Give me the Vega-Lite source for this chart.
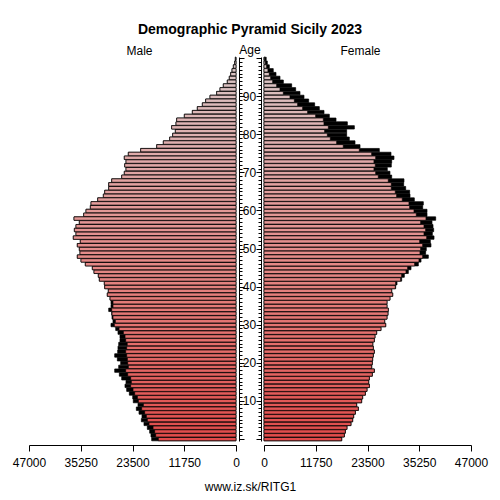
{
  "$schema": "https://vega.github.io/schema/vega-lite/v6.json",
  "background": "white",
  "bounds": "flush",
  "spacing": 28,
  "padding": {"left": 12, "top": 23, "right": 5, "bottom": 5},
  "title": {
    "text": "Demographic Pyramid Sicily 2023",
    "subtitle": "Age",
    "fontSize": 14,
    "fontWeight": "bold",
    "subtitleFontSize": 12,
    "subtitlePadding": 8,
    "anchor": "middle",
    "offset": -11.5
  },
  "datasets": {
    "sicily": [
      {"age": 0, "male": 19140, "female": 17640},
      {"age": 1, "male": 19300, "female": 18240},
      {"age": 2, "male": 19600, "female": 18470},
      {"age": 3, "male": 20130, "female": 18840},
      {"age": 4, "male": 20890, "female": 19750},
      {"age": 5, "male": 21490, "female": 20130},
      {"age": 6, "male": 21340, "female": 20360},
      {"age": 7, "male": 22020, "female": 20740},
      {"age": 8, "male": 22630, "female": 21420},
      {"age": 9, "male": 22250, "female": 21040},
      {"age": 10, "male": 23320, "female": 22170},
      {"age": 11, "male": 23450, "female": 22400},
      {"age": 12, "male": 24220, "female": 23010},
      {"age": 13, "male": 24820, "female": 23390},
      {"age": 14, "male": 25200, "female": 23920},
      {"age": 15, "male": 24970, "female": 23770},
      {"age": 16, "male": 25950, "female": 23920},
      {"age": 17, "male": 26490, "female": 24590},
      {"age": 18, "male": 27540, "female": 25050},
      {"age": 19, "male": 26630, "female": 24450},
      {"age": 20, "male": 26180, "female": 24590},
      {"age": 21, "male": 26940, "female": 24670},
      {"age": 22, "male": 27540, "female": 24820},
      {"age": 23, "male": 26860, "female": 25050},
      {"age": 24, "male": 26790, "female": 24820},
      {"age": 25, "male": 26630, "female": 24700},
      {"age": 26, "male": 26340, "female": 25050},
      {"age": 27, "male": 26340, "female": 25200},
      {"age": 28, "male": 26790, "female": 25580},
      {"age": 29, "male": 27310, "female": 26560},
      {"age": 30, "male": 28380, "female": 27630},
      {"age": 31, "male": 27930, "female": 27400},
      {"age": 32, "male": 28150, "female": 27930},
      {"age": 33, "male": 28220, "female": 28150},
      {"age": 34, "male": 28900, "female": 28220},
      {"age": 35, "male": 28380, "female": 27930},
      {"age": 36, "male": 28380, "female": 27930},
      {"age": 37, "male": 28600, "female": 28600},
      {"age": 38, "male": 29220, "female": 29220},
      {"age": 39, "male": 28990, "female": 28990},
      {"age": 40, "male": 29810, "female": 29900},
      {"age": 41, "male": 29900, "female": 30200},
      {"age": 42, "male": 31030, "female": 31260},
      {"age": 43, "male": 31260, "female": 31860},
      {"age": 44, "male": 32240, "female": 32770},
      {"age": 45, "male": 32620, "female": 33380},
      {"age": 46, "male": 34210, "female": 35040},
      {"age": 47, "male": 35190, "female": 35650},
      {"age": 48, "male": 36030, "female": 37310},
      {"age": 49, "male": 35420, "female": 36700},
      {"age": 50, "male": 35570, "female": 36850},
      {"age": 51, "male": 36030, "female": 37910},
      {"age": 52, "male": 35350, "female": 37760},
      {"age": 53, "male": 36940, "female": 38600},
      {"age": 54, "male": 36330, "female": 38220},
      {"age": 55, "male": 36700, "female": 38520},
      {"age": 56, "male": 36330, "female": 38370},
      {"age": 57, "male": 35570, "female": 38140},
      {"age": 58, "male": 36780, "female": 38980},
      {"age": 59, "male": 34580, "female": 37010},
      {"age": 60, "male": 34060, "female": 37010},
      {"age": 61, "male": 33070, "female": 36030},
      {"age": 62, "male": 32920, "female": 36170},
      {"age": 63, "male": 31400, "female": 34130},
      {"age": 64, "male": 30120, "female": 33150},
      {"age": 65, "male": 29810, "female": 33070},
      {"age": 66, "male": 28900, "female": 32170},
      {"age": 67, "male": 28900, "female": 31710},
      {"age": 68, "male": 28220, "female": 31780},
      {"age": 69, "male": 25950, "female": 28990},
      {"age": 70, "male": 25360, "female": 28600},
      {"age": 71, "male": 24970, "female": 27990},
      {"age": 72, "male": 25270, "female": 28900},
      {"age": 73, "male": 24970, "female": 28990},
      {"age": 74, "male": 25360, "female": 29510},
      {"age": 75, "male": 24450, "female": 28830},
      {"age": 76, "male": 21640, "female": 26180},
      {"age": 77, "male": 18000, "female": 21800},
      {"age": 78, "male": 16500, "female": 20660},
      {"age": 79, "male": 15060, "female": 19370},
      {"age": 80, "male": 14380, "female": 18770},
      {"age": 81, "male": 13770, "female": 18770},
      {"age": 82, "male": 14610, "female": 20510},
      {"age": 83, "male": 13620, "female": 18920},
      {"age": 84, "male": 13470, "female": 16350},
      {"age": 85, "male": 11730, "female": 14830},
      {"age": 86, "male": 9910, "female": 13620},
      {"age": 87, "male": 8780, "female": 12560},
      {"age": 88, "male": 7640, "female": 11500},
      {"age": 89, "male": 6890, "female": 10140},
      {"age": 90, "male": 5900, "female": 9080},
      {"age": 91, "male": 4390, "female": 8170},
      {"age": 92, "male": 3630, "female": 7190},
      {"age": 93, "male": 2880, "female": 6280},
      {"age": 94, "male": 1970, "female": 4390},
      {"age": 95, "male": 1520, "female": 3630},
      {"age": 96, "male": 1200, "female": 2720},
      {"age": 97, "male": 900, "female": 2100},
      {"age": 98, "male": 600, "female": 1200},
      {"age": 99, "male": 300, "female": 750},
      {"age": 100, "male": 150, "female": 500}
    ]
  },
  "data": {"name": "sicily"},
  "hconcat": [
    {
      "width": 207,
      "height": 384,
      "title": {"text": "Male", "dx": 7, "offset": -6},
      "layer": [
        {
          "mark": {"type": "bar", "fill": "black", "stroke": "black", "strokeWidth": 0.7},
          "encoding": {
            "x": {
              "field": "male",
              "type": "quantitative",
              "scale": {"domain": [0, 47000], "reverse": true, "nice": false},
              "axis": {
                "values": [0, 11750, 23500, 35250, 47000],
                "format": "d",
                "offset": 4,
                "tickSize": 6,
                "labelPadding": 6,
                "labelFlush": false,
                "labelOverlap": false,
                "title": "www.iz.sk/RITG1",
                "titleX": 221,
                "titleY": 41,
                "titleAlign": "center",
                "titleBaseline": "middle"
              }
            },
            "y": {
              "field": "age",
              "type": "ordinal",
              "sort": "descending",
              "scale": {"paddingInner": 0.1, "paddingOuter": 0.05},
              "axis": {
                "orient": "right",
                "offset": 3,
                "title": null,
                "tickSize": {"condition": {"test": "datum.value % 10 === 0", "value": 5}, "value": 3},
                "labelExpr": "datum.value % 10 === 0 && datum.value > 0 && datum.value < 100 ? datum.label : ''",
                "labelAlign": "center",
                "labelPadding": 5
              }
            }
          }
        },
        {
          "transform": [{"fold": ["male", "female"], "as": ["sex", "value"]}],
          "mark": {"type": "bar", "stroke": "black", "strokeWidth": 0.7},
          "encoding": {
            "x": {"aggregate": "min", "field": "value", "type": "quantitative"},
            "y": {"field": "age", "type": "ordinal", "sort": "descending"},
            "color": {
              "field": "age",
              "type": "quantitative",
              "scale": {"domain": [0, 100], "range": ["#e04a4a", "#d8c8c8"]},
              "legend": null
            }
          }
        }
      ]
    },
    {
      "width": 207,
      "height": 384,
      "title": {"text": "Female", "dx": -7, "offset": -1},
      "layer": [
        {
          "mark": {"type": "bar", "fill": "black", "stroke": "black", "strokeWidth": 0.7},
          "encoding": {
            "x": {
              "field": "female",
              "type": "quantitative",
              "scale": {"domain": [0, 47000], "nice": false},
              "axis": {
                "values": [0, 11750, 23500, 35250, 47000],
                "format": "d",
                "offset": 4,
                "tickSize": 6,
                "labelPadding": 6,
                "labelFlush": false,
                "labelOverlap": false,
                "title": null
              }
            },
            "y": {
              "field": "age",
              "type": "ordinal",
              "sort": "descending",
              "scale": {"paddingInner": 0.1, "paddingOuter": 0.05},
              "axis": {
                "orient": "left",
                "offset": 3,
                "title": null,
                "labels": false,
                "tickSize": {"condition": {"test": "datum.value % 10 === 0", "value": 5}, "value": 3}
              }
            }
          }
        },
        {
          "transform": [{"fold": ["male", "female"], "as": ["sex", "value"]}],
          "mark": {"type": "bar", "stroke": "black", "strokeWidth": 0.7},
          "encoding": {
            "x": {"aggregate": "min", "field": "value", "type": "quantitative"},
            "y": {"field": "age", "type": "ordinal", "sort": "descending"},
            "color": {
              "field": "age",
              "type": "quantitative",
              "scale": {"domain": [0, 100], "range": ["#e04a4a", "#d8c8c8"]},
              "legend": null
            }
          }
        }
      ]
    }
  ],
  "config": {
    "font": "Liberation Sans",
    "view": {"stroke": null},
    "axis": {
      "grid": false,
      "domainColor": "black",
      "tickColor": "black",
      "labelColor": "black",
      "titleColor": "black",
      "labelFontSize": 12,
      "titleFontSize": 12,
      "titleFontWeight": "normal",
      "labelFont": "Liberation Sans",
      "titleFont": "Liberation Sans"
    },
    "title": {"color": "black", "subtitleColor": "black", "fontWeight": "normal", "fontSize": 12, "font": "Liberation Sans", "subtitleFont": "Liberation Sans"}
  }
}
